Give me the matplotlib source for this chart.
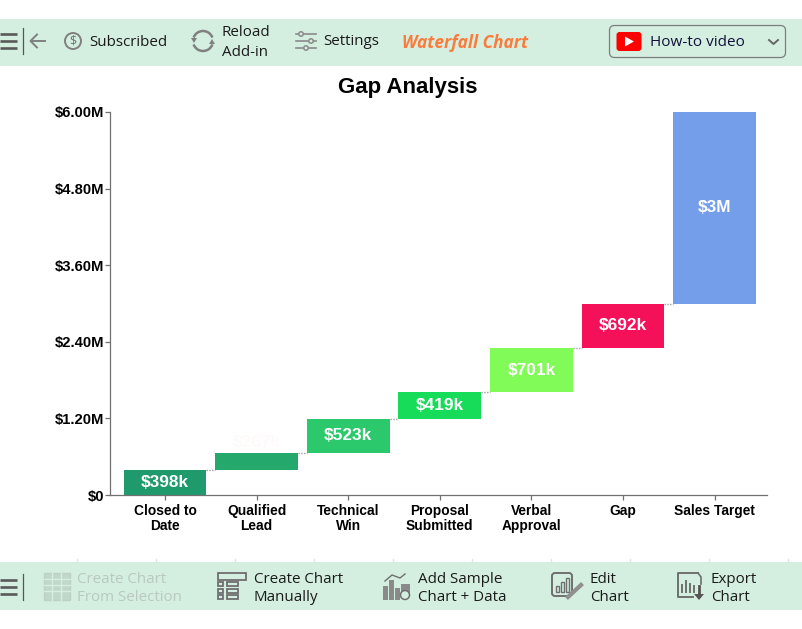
import matplotlib
matplotlib.use("Agg")
import matplotlib.pyplot as plt
from matplotlib.patches import Rectangle, FancyBboxPatch, Circle, Polygon, Arc

W, H = 803, 629

categories = ["Closed to\nDate", "Qualified\nLead", "Technical\nWin", "Proposal\nSubmitted",
              "Verbal\nApproval", "Gap", "Sales Target"]
values = [398, 267, 523, 419, 701, 692, 3000]
labels = ["$398k", "$267k", "$523k", "$419k", "$701k", "$692k", "$3M"]
colors = ["#1f9a6d", "#25a86b", "#2bc96b", "#16dc5a", "#80fb57", "#f5115a", "#749eea"]
label_colors = ["white", "#fffafa", "white", "white", "white", "white", "white"]
y_ticks = [0, 1200, 2400, 3600, 4800, 6000]
y_tick_labels = ["$0", "$1.20M", "$2.40M", "$3.60M", "$4.80M", "$6.00M"]

BAND = "#d4efe0"
ICON = "#6f6f6f"
UI_FONT = ["Open Sans", "Noto Sans", "DejaVu Sans"]

fig = plt.figure(figsize=(W / 100, H / 100), dpi=100, facecolor="white")

# Full-figure overlay in pixel coordinates for the toolbars
ui = fig.add_axes([0, 0, 1, 1], zorder=0)
ui.set_xlim(0, W)
ui.set_ylim(H, 0)
ui.axis("off")

ui.add_patch(Rectangle((0, 19), W, 47, fc=BAND, ec="none"))
ui.add_patch(Rectangle((0, 562), W, 48, fc=BAND, ec="none"))

# Small ticks above the lower toolbar
for x in [77, 156, 235, 314, 393, 472, 551, 630, 709, 788]:
    ui.plot([x, x], [559, 562], color="#e4e4e4", lw=1)


def burger(y0):
    for dy in (-7, 0, 7):
        ui.plot([0, 17], [y0 + dy, y0 + dy], color="#5a5a5a", lw=1.9, solid_capstyle="butt")
    ui.plot([23.5, 23.5], [y0 - 13, y0 + 13], color="#555555", lw=0.9)


def say(x, y, s, color="#1a1a1a", size=10.9, **kw):
    ui.text(x, y + 1.2, s, color=color, fontsize=size, family=UI_FONT, va="center", ha="left", **kw)


burger(41)
ui.plot([31, 45], [41, 41], color="#808080", lw=1.4)
ui.plot([37, 30.5, 37], [34.5, 41, 47.5], color="#808080", lw=1.4)

ui.add_patch(Circle((73, 41), 8, fc="none", ec="#808080", lw=1.4))
ui.text(73, 41, "$", color=ICON, fontsize=9, ha="center", va="center", family=UI_FONT)
say(89, 41.5, "Subscribed")

# Reload arrows
ui.add_patch(Arc((203, 41), 20, 20, theta1=200, theta2=340, ec="#808080", lw=1.8))
ui.add_patch(Arc((203, 41), 20, 20, theta1=20, theta2=160, ec="#808080", lw=1.8))
ui.add_patch(Polygon([[191, 38], [197, 38], [194, 43]], fc="#808080", ec="none"))
ui.add_patch(Polygon([[209, 44], [215, 44], [212, 39]], fc="#808080", ec="none"))
say(222, 31, "Reload")
say(222, 51.5, "Add-in")

# Settings sliders
for y, kx in [(34, 301), (41, 311), (48, 306)]:
    ui.plot([296, 316], [y, y], color="#8a8a8a", lw=1.2)
    ui.add_patch(Circle((kx, y), 2.2, fc=BAND, ec="#8a8a8a", lw=1.1, zorder=3))
say(323, 40.5, "Settings")

say(402, 41.5, "Waterfall Chart", color="#fb7b3c", size=12.4, fontweight="bold", fontstyle="italic")

# Video dropdown
ui.add_patch(FancyBboxPatch((609.5, 25.5), 176, 32, boxstyle="round,pad=0,rounding_size=5",
                            fc="none", ec="#7d7d7d", lw=0.9))
ui.add_patch(FancyBboxPatch((616.5, 32), 25, 19, boxstyle="round,pad=0,rounding_size=3",
                            fc="#fe0000", ec="none"))
ui.add_patch(Polygon([[625, 36.5], [625, 46.5], [634, 41.5]], fc="white", ec="none"))
say(650, 41.5, "How-to video", color="#10103a", size=11)
ui.plot([769, 773.5, 778], [40, 44, 40], color="#666666", lw=1.4)

# Lower toolbar
burger(587)

FADED = "#b9c9c0"
ui.add_patch(Rectangle((44, 573), 26, 27, fc="#bfd8c9", ec="#bcd0c4", lw=1))
for y in (579, 585, 591):
    ui.plot([44, 70], [y, y], color=BAND, lw=1)
for x in (52, 61):
    ui.plot([x, x], [573, 600], color=BAND, lw=1)
say(77, 578, "Create Chart", color=FADED)
say(77, 596, "From Selection", color=FADED)

ui.add_patch(Rectangle((218.5, 573), 28, 7, fc="none", ec=ICON, lw=1.3))
for y in (583.5, 590, 596.5):
    ui.add_patch(Rectangle((218.5, y - 1.5), 5, 4, fc="none", ec=ICON, lw=1.3))
    ui.add_patch(Rectangle((227, y - 1.5), 11, 4, fc="none", ec=ICON, lw=1.3))
say(254, 578, "Create Chart")
say(254, 596, "Manually")

for x, h in [(383, 14), (389, 20), (395, 12)]:
    ui.add_patch(Rectangle((x, 600 - h), 5, h, fc="#8a8a8a", ec="none"))
ui.plot([385, 392, 400, 405], [581, 575, 578, 574], color=ICON, lw=1)
ui.add_patch(Rectangle((401, 584), 9, 9, fc="#8a8a8a", ec="none"))
ui.add_patch(Circle((405, 595), 4.5, fc=BAND, ec=ICON, lw=1.1, zorder=3))
say(418, 578, "Add Sample")
say(418, 596, "Chart + Data")

ui.add_patch(FancyBboxPatch((552, 573), 20, 23, boxstyle="round,pad=0,rounding_size=3",
                            fc="none", ec=ICON, lw=1.4))
for x, h in [(556, 6), (561, 10), (566, 14)]:
    ui.add_patch(Rectangle((x, 592 - h), 3, h, fc="none", ec=ICON, lw=1))
ui.plot([568, 581], [597, 585], color="#8f8f8f", lw=3)
say(590, 578, "Edit")
say(590, 596, "Chart")

ui.plot([698, 678, 678, 693], [573, 573, 597, 597], color=ICON, lw=1.4)
ui.plot([698, 701, 701], [573, 577, 584], color=ICON, lw=1.2)
for x, h in [(682, 7), (686, 11), (690, 8), (694, 6)]:
    ui.plot([x, x], [592, 592 - h], color=ICON, lw=1.4)
ui.plot([699, 699], [586, 596], color="#555555", lw=2)
ui.add_patch(Polygon([[694, 594], [704, 594], [699, 600]], fc="#555555", ec="none"))
say(711, 578, "Export")
say(711, 596, "Chart")

# Chart area: x limits put the category centres about 91.5 px apart
left, right, top, bottom = 110, 767, 112, 495
ax = fig.add_axes([left / W, 1 - bottom / H, (right - left) / W, (bottom - top) / H], zorder=1)
ax.patch.set_alpha(0)

n = len(values)
bases = [sum(values[:i]) for i in range(n)]
bases[-1] = 3000  # target column starts from the running total
positions = list(range(n))
bar_w = 0.905
ax.bar(positions, values, bottom=bases, width=bar_w, color=colors, edgecolor="none", zorder=2)

for i in range(n - 1):
    level = bases[i] + values[i]
    ax.plot([i + bar_w / 2, i + 1 - bar_w / 2], [level, level], color="#a0a0a0",
            lw=1.0, ls=(0, (1, 1)), zorder=1)

for i, (lab, col) in enumerate(zip(labels, label_colors)):
    ax.text(i, bases[i] + values[i] / 2 if i != 1 else bases[i] + values[i] + 150, lab,
            ha="center", va="center", color=col, fontsize=12.4, fontweight="bold",
            family="Liberation Sans", zorder=3)

ax.set_xlim(-0.6, 6.572)
ax.set_ylim(0, 6000)
ax.set_xticks(positions)
ax.set_xticklabels(categories, fontsize=9.9, fontweight="bold", family="Liberation Sans", linespacing=1.12)
ax.set_yticks(y_ticks)
ax.set_yticklabels(y_tick_labels, fontsize=10.6, fontweight="bold", family="Liberation Sans")
ax.tick_params(axis="x", length=3.6, width=0.9, color="#707070", labelcolor="black", pad=2.8)
ax.tick_params(axis="y", length=3.6, width=0.9, color="#707070", labelcolor="black", pad=0.8)
for side in ("top", "right"):
    ax.spines[side].set_visible(False)
for side in ("left", "bottom"):
    ax.spines[side].set_color("#707070")
    ax.spines[side].set_linewidth(0.9)

ui.text(407.5, 87, "Gap Analysis", ha="center", va="center", fontsize=16, fontweight="bold",
        family="Liberation Sans", color="black")

fig.savefig("out.png", dpi=100)
